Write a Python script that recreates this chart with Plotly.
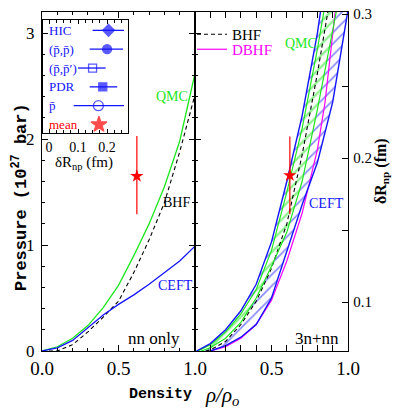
import plotly.graph_objects as go

# ---- left panel: neutron matter with nn forces only ----
rho_nn = [0.0, 0.1, 0.2, 0.3, 0.4, 0.5, 0.6, 0.7, 0.8, 0.9, 1.0]
qmc_nn = [0.0, 0.04, 0.12, 0.24, 0.41, 0.62, 0.90, 1.20, 1.55, 1.98, 2.62]
bhf_nn = [0.0, 0.0, 0.06, 0.18, 0.32, 0.47, 0.74, 1.05, 1.40, 1.88, 2.42]
ceft_nn = [0.0, 0.03, 0.10, 0.22, 0.34, 0.44, 0.53, 0.63, 0.74, 0.85, 0.99]

# ---- right panel: 3n+nn ----
rho_ceft_hi = [0.01, 0.1, 0.2, 0.3, 0.4, 0.5, 0.6, 0.7, 0.8, 0.85]
p_ceft_hi = [0.0, 0.07, 0.20, 0.38, 0.63, 1.03, 1.60, 2.22, 3.00, 3.50]
rho_ceft_lo = [0.1, 0.2, 0.3, 0.4, 0.5, 0.6, 0.7, 0.8, 0.9, 1.0]
p_ceft_lo = [0.0, 0.05, 0.13, 0.25, 0.50, 0.93, 1.38, 1.78, 2.35, 3.22]
rho_qmc_hi = [0.02, 0.1, 0.2, 0.3, 0.4, 0.5, 0.6, 0.7, 0.8, 0.86]
p_qmc_hi = [0.0, 0.06, 0.18, 0.35, 0.58, 0.95, 1.50, 2.10, 2.85, 3.35]
rho_qmc_lo = [0.04, 0.1, 0.2, 0.3, 0.4, 0.5, 0.6, 0.7, 0.8, 0.9, 0.95]
p_qmc_lo = [0.0, 0.03, 0.12, 0.27, 0.50, 0.80, 1.12, 1.60, 2.28, 3.00, 3.40]
rho_bhf = [0.07, 0.1, 0.2, 0.3, 0.4, 0.5, 0.6, 0.7, 0.8, 0.88]
p_bhf = [0.0, 0.01, 0.09, 0.25, 0.47, 0.78, 1.20, 1.85, 2.62, 3.30]
rho_dbhf = [0.1, 0.2, 0.3, 0.4, 0.5, 0.6, 0.7, 0.8, 0.85, 0.9, 0.92]
p_dbhf = [0.0, 0.04, 0.12, 0.25, 0.48, 0.85, 1.30, 1.90, 2.35, 2.95, 3.25]

# ---- inset: neutron skin measurements ----
skin_labels = ["HIC", "(p\u0304,p\u0304)", "(p\u0304,p\u0304\u2032)", "PDR", "p\u0304", "mean"]
skin_val = [0.205, 0.200, 0.150, 0.185, 0.170, 0.172]
skin_lo = [0.150, 0.140, 0.100, 0.140, 0.085, 0.172]
skin_hi = [0.258, 0.255, 0.195, 0.235, 0.258, 0.172]
skin_symbol = ["diamond", "circle", "square-open", "square", "circle-open", "star"]

# mean constraint
mean_rho = 0.62
mean_p, mean_p_up, mean_p_dn = 1.65, 0.38, 0.36
mean_dr, mean_dr_err = 0.188, 0.027

GREEN = "#1ee61e"
BLUE = "#1414ff"
MAG = "#ff00ff"
RED = "#ff0000"
SERIF = "Liberation Serif"

fig = go.Figure()

# left panel curves
fig.add_trace(go.Scatter(x=rho_nn, y=qmc_nn, mode="lines", line=dict(color=GREEN, width=1.3),
                         showlegend=False, xaxis="x", yaxis="y"))
fig.add_trace(go.Scatter(x=rho_nn, y=bhf_nn, mode="lines", line=dict(color="black", width=1.1, dash="4px,3px"),
                         showlegend=False, xaxis="x", yaxis="y"))
fig.add_trace(go.Scatter(x=rho_nn, y=ceft_nn, mode="lines", line=dict(color=BLUE, width=1.3),
                         showlegend=False, xaxis="x", yaxis="y"))
fig.add_trace(go.Scatter(x=[mean_rho], y=[mean_p], mode="markers",
                         marker=dict(symbol="star", size=10, color=RED),
                         error_y=dict(type="data", array=[mean_p_up], arrayminus=[mean_p_dn],
                                      color=RED, thickness=1.2, width=0),
                         showlegend=False, xaxis="x", yaxis="y"))

# right panel bands
band_x = rho_ceft_hi + rho_ceft_lo[::-1]
band_y = p_ceft_hi + p_ceft_lo[::-1]
fig.add_trace(go.Scatter(x=band_x, y=band_y, mode="none", fill="toself", fillcolor="rgba(0,0,0,0)",
                         fillpattern=dict(shape="/", fgcolor=BLUE, bgcolor="white", size=8, solidity=0.22),
                         showlegend=False, xaxis="x2", yaxis="y2"))
qband_x = rho_qmc_hi + rho_qmc_lo[::-1]
qband_y = p_qmc_hi + p_qmc_lo[::-1]
fig.add_trace(go.Scatter(x=qband_x, y=qband_y, mode="none", fill="toself", fillcolor="rgba(0,0,0,0)",
                         fillpattern=dict(shape="/", fgcolor=GREEN, bgcolor="white", size=8, solidity=0.3),
                         showlegend=False, xaxis="x2", yaxis="y2"))
fig.add_trace(go.Scatter(x=rho_bhf, y=p_bhf, mode="lines", name="BHF",
                         line=dict(color="black", width=1.1, dash="4px,3px"),
                         showlegend=True, legend="legend", xaxis="x2", yaxis="y2"))
fig.add_trace(go.Scatter(x=rho_dbhf, y=p_dbhf, mode="lines", name="DBHF",
                         line=dict(color=MAG, width=1.2),
                         showlegend=True, legend="legend2", xaxis="x2", yaxis="y2"))
for rx, py in [(rho_qmc_hi, p_qmc_hi), (rho_qmc_lo, p_qmc_lo)]:
    fig.add_trace(go.Scatter(x=rx, y=py, mode="lines", line=dict(color=GREEN, width=1.2),
                             showlegend=False, xaxis="x2", yaxis="y2"))
for rx, py in [(rho_ceft_hi, p_ceft_hi), (rho_ceft_lo, p_ceft_lo)]:
    fig.add_trace(go.Scatter(x=rx, y=py, mode="lines", line=dict(color=BLUE, width=1.4),
                             showlegend=False, xaxis="x2", yaxis="y2"))
fig.add_trace(go.Scatter(x=[mean_rho], y=[mean_dr], mode="markers",
                         marker=dict(symbol="star", size=10, color=RED),
                         error_y=dict(type="data", array=[mean_dr_err], color=RED, thickness=1.2, width=0),
                         showlegend=False, xaxis="x2", yaxis="y3"))

# inset
err_plus = [h - v for h, v in zip(skin_hi, skin_val)]
err_minus = [v - l for v, l in zip(skin_val, skin_lo)]
fig.add_trace(go.Scatter(x=skin_val, y=skin_labels, mode="markers",
                         marker=dict(symbol=skin_symbol, size=[9, 9, 8, 8, 10, 12],
                                     color=[BLUE] * 5 + [RED], line=dict(width=1.3, color=[BLUE] * 5 + [RED])),
                         error_x=dict(type="data", array=err_plus, arrayminus=err_minus,
                                      color=BLUE, thickness=1.3, width=0),
                         showlegend=False, xaxis="x3", yaxis="y4"))

W, H = 398, 415
def px(v):
    return v / W
def py_(v):
    return 1 - v / H

tick_common = dict(showline=True, linecolor="black", linewidth=1.3, ticks="inside",
                   tickcolor="black", showgrid=False, zeroline=False, automargin=False)

legend_common = dict(xanchor="left", yanchor="top", bgcolor="rgba(0,0,0,0)", itemwidth=30)

fig.update_layout(
    width=W, height=H, margin=dict(l=0, r=0, t=0, b=0),
    paper_bgcolor="white", plot_bgcolor="rgba(0,0,0,0)",
    xaxis=dict(domain=[px(42), px(195)], range=[0, 1], anchor="y", mirror="allticks",
               tickvals=[0, 0.5, 1.0], ticktext=["0.0", "0.5", "1.0"], ticklen=6,
               minor=dict(dtick=0.1, ticklen=3, ticks="inside", tickcolor="black"),
               tickfont=dict(family=SERIF, size=19, color="black"), ticklabelstandoff=0,
               **tick_common),
    yaxis=dict(domain=[1 - 351 / H, 1 - 12 / H], range=[0, 3.2], anchor="x", mirror="allticks",
               tickvals=[0, 1, 2, 3], ticklen=6,
               minor=dict(dtick=0.2, ticklen=3, ticks="inside", tickcolor="black"),
               tickfont=dict(family=SERIF, size=17, color="black"), ticklabelstandoff=3,
               **tick_common),
    xaxis2=dict(domain=[px(195), px(348)], range=[0, 1], anchor="y2", mirror="allticks",
                tickvals=[0, 0.5, 1.0], ticktext=["", "0.5", "1.0"], ticklen=6,
                minor=dict(dtick=0.1, ticklen=3, ticks="inside", tickcolor="black"),
                tickfont=dict(family=SERIF, size=19, color="black"), ticklabelstandoff=0,
                **tick_common),
    yaxis2=dict(domain=[1 - 351 / H, 1 - 12 / H], range=[0, 3.2], anchor="x2",
                tickvals=[0, 1, 2, 3], ticklen=6, showticklabels=False,
                minor=dict(dtick=0.2, ticklen=3, ticks="inside", tickcolor="black"),
                **tick_common),
    yaxis3=dict(overlaying="y2", side="right", anchor="x2", range=[0.066, 0.3014],
                tickvals=[0.1, 0.15, 0.2, 0.25, 0.3], ticktext=["0.1", "", "0.2", "", "0.3"],
                ticklen=6, tickfont=dict(family=SERIF, size=15, color="black"), ticklabelstandoff=1,
                **tick_common),
    xaxis3=dict(domain=[px(43), px(128)], range=[-0.0207, 0.272], anchor="y4", mirror="allticks",
                tickvals=[0, 0.1, 0.2], ticktext=["0", "0.1", "0.2"], ticklen=4,
                minor=dict(dtick=0.025, ticklen=3, ticks="inside", tickcolor="black"),
                tickfont=dict(family=SERIF, size=14, color="black"), ticklabelstandoff=1,
                **tick_common),
    yaxis4=dict(domain=[1 - 133 / H, 1 - 20 / H], type="category", categoryorder="array",
                categoryarray=skin_labels, range=[5.45, -0.55], anchor="x3", mirror=True,
                showline=True, linecolor="black", linewidth=1.3, ticks="", showticklabels=False,
                showgrid=False, zeroline=False, automargin=False),
    legend=dict(x=px(192), y=py_(18), font=dict(family=SERIF, size=15, color="black"), **legend_common),
    legend2=dict(x=px(192), y=py_(33), font=dict(family=SERIF, size=15, color=MAG), **legend_common),
    showlegend=True,
)

ann = []
def label(text, x, y, xref, yref, color, size=14, xanchor="center", yanchor="middle", **kw):
    ann.append(dict(text=text, x=x, y=y, xref=xref, yref=yref, showarrow=False,
                    xanchor=xanchor, yanchor=yanchor,
                    font=dict(family=SERIF, size=size, color=color), **kw))

label("QMC", 0.85, 2.4, "x", "y", GREEN)
label("BHF", 0.88, 1.4, "x", "y", "black")
label("CEFT", 0.875, 0.62, "x", "y", BLUE)
label("nn only", 0.73, 0.12, "x", "y", "black", size=17)
label("QMC", 0.69, 2.9, "x2", "y2", GREEN)
label("CEFT", 0.86, 1.39, "x2", "y2", BLUE)
label("3n+nn", 0.8, 0.12, "x2", "y2", "black", size=17)

for name in skin_labels:
    label(name, -0.008, name, "x3", "y4", RED if name == "mean" else BLUE, size=13, xanchor="left")

label("\u03b4R<sub>np</sub> (fm)", px(84), py_(163), "paper", "paper", "black", size=15)
label("Pressure (10<sup>27</sup> bar)", px(20), py_(197), "paper", "paper", "black", size=17,
      textangle=-90)
ann[-1]["font"] = dict(family="Liberation Mono", size=17, color="black", weight="bold")
label("Density", px(160), py_(394), "paper", "paper", "black", size=15)
ann[-1]["font"] = dict(family="Liberation Mono", size=15, color="black", weight="bold")
label("<i>\u03c1/\u03c1<sub>o</sub></i>", px(222), py_(396), "paper", "paper", "black", size=21)
label("\u03b4R<sub>np</sub> (fm)", px(381), py_(171), "paper", "paper", "black", size=16, textangle=-90)
ann[-1]["font"] = dict(family=SERIF, size=16, color="black", weight="bold")

fig.update_layout(annotations=ann)
fig.write_html("out.html", config={"displayModeBar": False},
               post_script="document.body.style.margin='0';")
